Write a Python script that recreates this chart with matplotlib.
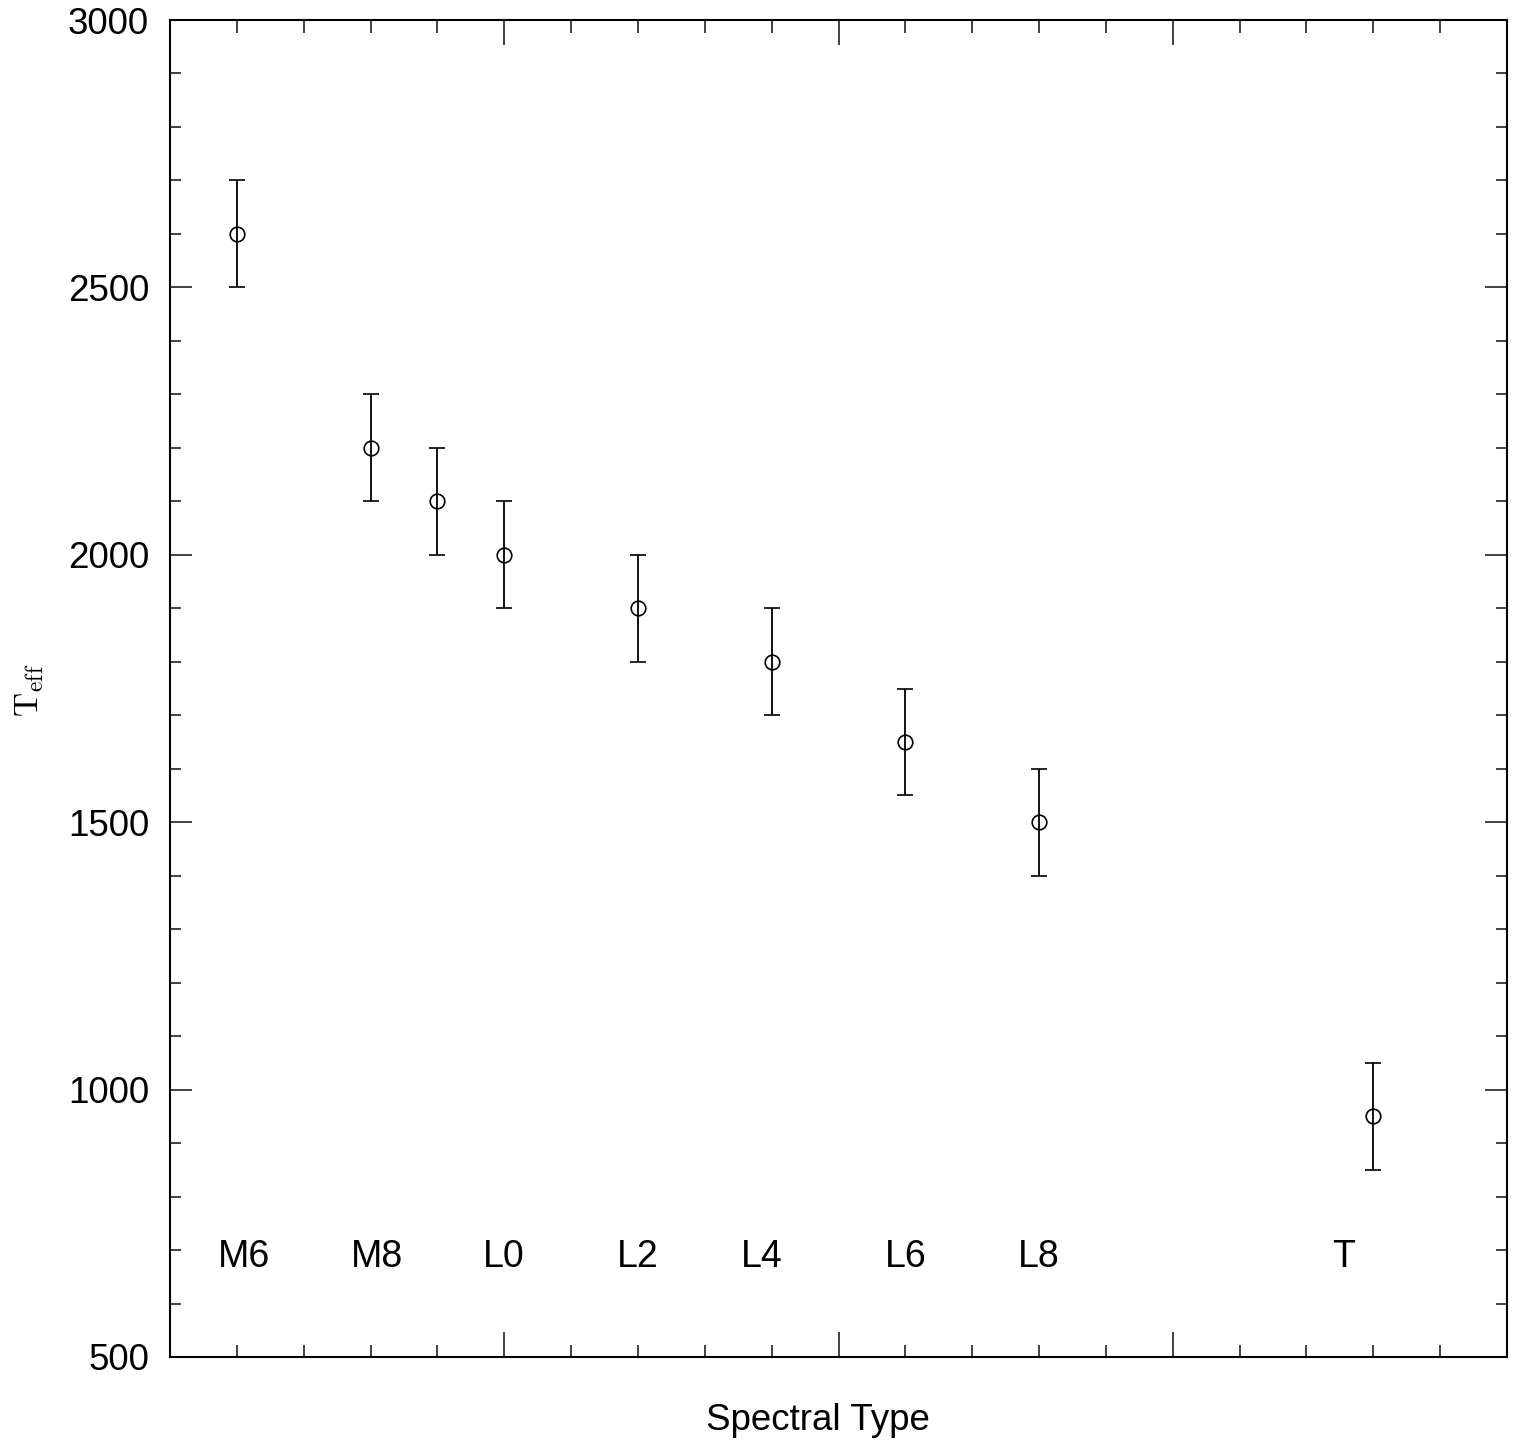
import matplotlib
matplotlib.use("Agg")
import matplotlib.pyplot as plt
from matplotlib.ticker import MultipleLocator

plt.rcParams['font.family'] = ['Liberation Sans', 'DejaVu Sans']
plt.rcParams['mathtext.fontset'] = 'cm'

# data
spec_pos = [1, 3, 4, 5, 7, 9, 11, 13, 18]
teff = [2600, 2200, 2100, 2000, 1900, 1800, 1650, 1500, 950]
teff_err = [100, 100, 100, 100, 100, 100, 100, 100, 100]

label_text = ["M6", "M8", "L0", "L2", "L4", "L6", "L8", "T"]
label_pos = [1.1, 3.1, 5.0, 7.0, 8.85, 11.0, 13.0, 17.55]
label_y = 687

fig = plt.figure(figsize=(15.19, 14.50), dpi=100)
ax = fig.add_axes([170/1519, 1 - 1357/1450, 1337/1519, 1337/1450])

ax.errorbar(spec_pos, teff, yerr=teff_err, fmt='o', mfc='none', mec='black',
            ecolor='black', color='black', ms=10.5, mew=1.2, elinewidth=1.3,
            capsize=5.5, capthick=1.3)

for t, x in zip(label_text, label_pos):
    ax.text(x, label_y, t, ha='center', va='center', fontsize=27)

ax.set_xlim(0, 20)
ax.set_ylim(500, 3000)
ax.xaxis.set_major_locator(MultipleLocator(5))
ax.xaxis.set_minor_locator(MultipleLocator(1))
ax.yaxis.set_major_locator(MultipleLocator(500))
ax.yaxis.set_minor_locator(MultipleLocator(100))
ax.tick_params(which='both', direction='in', top=True, right=True, color='#333333')
ax.tick_params(which='major', axis='x', length=18, width=1.3, labelbottom=False)
ax.tick_params(which='minor', axis='x', length=9, width=1.3)
ax.tick_params(which='major', axis='y', length=16, width=1.3, labelsize=26.5, pad=15)
ax.tick_params(which='minor', axis='y', length=8, width=1.3)
for s in ax.spines.values():
    s.set_linewidth(1.5)

fig.text(818/1519, 1 - 1420/1450, "Spectral Type", ha='center', va='center', fontsize=26.5)
fig.text(30/1519, 1 - 690/1450, r"$\mathrm{T_{eff}}$", ha='center', va='center',
         fontsize=24, rotation=90)

fig.savefig("out.png", dpi=100)
